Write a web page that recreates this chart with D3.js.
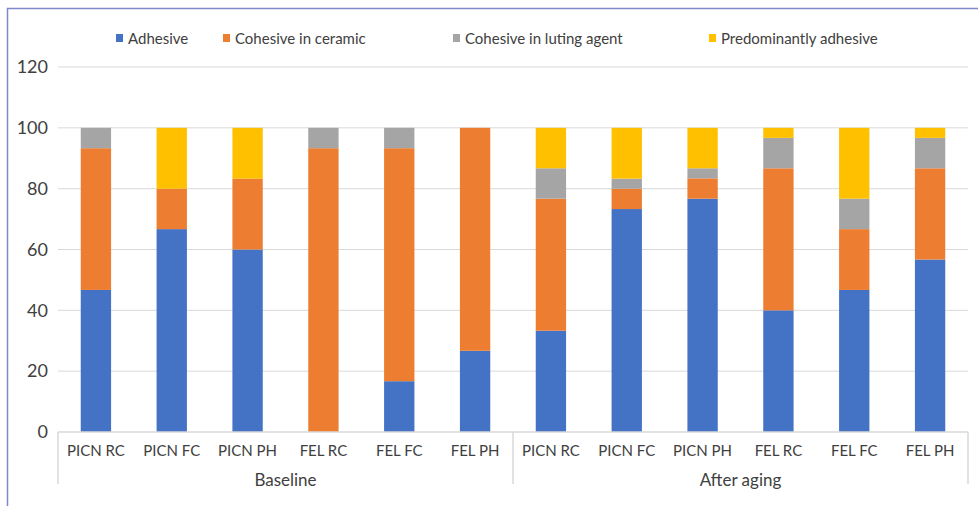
<!DOCTYPE html>
<html lang="en">
  <head>
    <meta charset="UTF-8" />
    <title>Failure modes</title>
    <style>
      body { margin: 0; background: #fff; }
      text { font-family: 'Source Sans Pro', 'Lato', 'Noto Sans', sans-serif; fill: #404040; }
    </style>
  </head>
  <body>
    <script src="https://d3js.org/d3.v7.min.js"></script>
    <script>
      const groups = ['Baseline', 'After aging']
      const materials = ['PICN RC', 'PICN FC', 'PICN PH', 'FEL RC', 'FEL FC', 'FEL PH']
      const seriesNames = ['Adhesive', 'Cohesive in ceramic', 'Cohesive in luting agent', 'Predominantly adhesive']
      const colors = ['#4472C4', '#ED7D31', '#A5A5A5', '#FFC000']

      // baseline then after aging, 6 each
      const adhesive = [46.7, 66.7, 60, 0, 16.7, 26.7, 33.3, 73.3, 76.7, 40, 46.7, 56.7]
      const cohesiveCeramic = [46.6, 13.3, 23.3, 93.3, 76.6, 73.3, 43.4, 6.7, 6.7, 46.7, 20, 30]
      const cohesiveLuting = [6.7, 0, 0, 6.7, 6.7, 0, 10, 3.3, 3.3, 10, 10, 10]
      const predominantly = [0, 20, 16.7, 0, 0, 0, 13.3, 16.7, 13.3, 3.3, 23.3, 3.3]
      const yTicks = [0, 20, 40, 60, 80, 100, 120]

      const width = 978
      const height = 506
      const padding = { top: 67, bottom: 74, left: 58, right: 10 }

      const svg = d3.select('body').append('svg')
        .attr('width', width).attr('height', height)

      // frame
      svg.append('path')
        .attr('d', `M7.5,${height} V8.5 H${width}`)
        .attr('fill', 'none').attr('stroke', '#8088cc').attr('stroke-width', 1.5)

      const rows = []
      groups.forEach((g, gi) => {
        materials.forEach((m, mi) => {
          const i = gi * materials.length + mi
          rows.push({
            key: g + '|' + m, group: g, label: m,
            s0: adhesive[i], s1: cohesiveCeramic[i], s2: cohesiveLuting[i], s3: predominantly[i]
          })
        })
      })

      const x = d3.scaleBand()
        .domain(rows.map(d => d.key))
        .range([padding.left, width - padding.right])
        .paddingInner(0.6)
        .paddingOuter(0.3)

      const y = d3.scaleLinear()
        .domain([0, 120])
        .range([height - padding.bottom, padding.top])

      // grid
      svg.append('g')
        .selectAll('line')
        .data(yTicks.filter(t => t > 0))
        .join('line')
        .attr('x1', padding.left).attr('x2', width - padding.right)
        .attr('y1', d => y(d)).attr('y2', d => y(d))
        .attr('stroke', '#d9d9d9').attr('stroke-width', 1)

      // y axis
      const yAxis = g => g
        .attr('transform', `translate(${padding.left},0)`)
        .call(d3.axisLeft(y).tickValues(yTicks).tickSize(0).tickPadding(10))
        .call(g => g.select('.domain').remove())
        .call(g => g.selectAll('text').attr('font-size', 18).attr('fill', '#404040')
          .style('font-family', "'Source Sans Pro', 'Lato', 'Noto Sans', sans-serif"))
      svg.append('g').call(yAxis)

      // stacked bars
      const keys = ['s0', 's1', 's2', 's3']
      const stacked = d3.stack().keys(keys)(rows)

      svg.append('g')
        .selectAll('g')
        .data(stacked)
        .join('g')
        .attr('fill', (d, i) => colors[i])
        .selectAll('rect')
        .data(d => d)
        .join('rect')
        .attr('x', d => x(d.data.key))
        .attr('y', d => y(d[1]))
        .attr('width', x.bandwidth())
        .attr('height', d => y(d[0]) - y(d[1]))

      // x axis
      const baseY = y(0)
      svg.append('line')
        .attr('x1', padding.left).attr('x2', width - padding.right)
        .attr('y1', baseY).attr('y2', baseY)
        .attr('stroke', '#d9d9d9').attr('stroke-width', 1.5)

      const step = x.step()
      const xAxis = svg.append('g')
      xAxis.selectAll('text')
        .data(rows)
        .join('text')
        .attr('x', d => x(d.key) + x.bandwidth() / 2)
        .attr('y', baseY + 24)
        .attr('text-anchor', 'middle')
        .attr('font-size', 15)
        .text(d => d.label)

      // group separators and labels
      const sepX = [padding.left, padding.left + step * materials.length, width - padding.right]
      svg.append('g').selectAll('line')
        .data(sepX)
        .join('line')
        .attr('x1', d => d).attr('x2', d => d)
        .attr('y1', baseY).attr('y2', baseY + 52)
        .attr('stroke', '#d9d9d9').attr('stroke-width', 1.5)

      svg.append('g').selectAll('text')
        .data(groups)
        .join('text')
        .attr('x', (d, i) => (sepX[i] + sepX[i + 1]) / 2)
        .attr('y', baseY + 54)
        .attr('text-anchor', 'middle')
        .attr('font-size', 17)
        .text(d => d)

      // legend
      const legendX = [116, 223, 453, 709]
      const legend = svg.append('g')
        .selectAll('g')
        .data(seriesNames)
        .join('g')
        .attr('transform', (d, i) => `translate(${legendX[i]},38)`)
      legend.append('rect')
        .attr('x', 0).attr('y', -4).attr('width', 7).attr('height', 8)
        .attr('fill', (d, i) => colors[i])
      legend.append('text')
        .attr('x', 12).attr('y', 5.5)
        .attr('font-size', 15)
        .text(d => d)
    </script>
  </body>
</html>
